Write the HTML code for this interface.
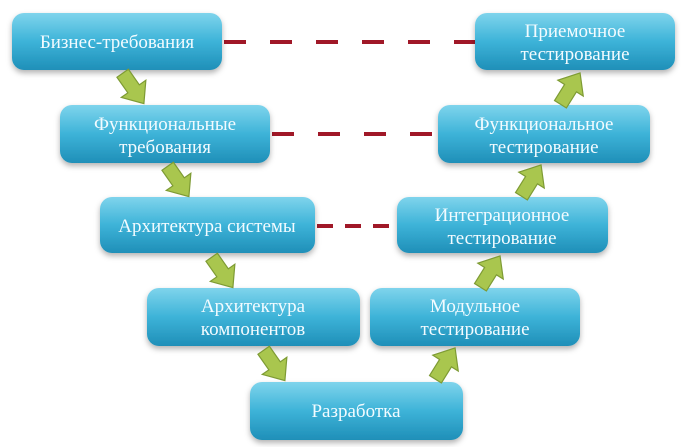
<!DOCTYPE html>
<html><head><meta charset="utf-8"><style>
html,body{margin:0;padding:0;background:#fff;}
svg{display:block;}
</style></head><body>
<svg width="681" height="447" viewBox="0 0 681 447" xmlns="http://www.w3.org/2000/svg">
<defs>
<linearGradient id="g" x1="0" y1="0" x2="0" y2="1">
<stop offset="0" stop-color="#7fd4ec"/>
<stop offset="0.5" stop-color="#3db3d8"/>
<stop offset="1" stop-color="#1f8fb8"/>
</linearGradient>
<filter id="s" x="-10%" y="-10%" width="120%" height="140%"><feDropShadow dx="0" dy="3" stdDeviation="3" flood-color="#000" flood-opacity="0.3"/></filter>
<g id="ar"><polygon points="-18,-7 1,-7 1,-15 19,0 1,15 1,7 -18,7" fill="#a9c64e" stroke="#7e9b34" stroke-width="1.2"/></g>
</defs>
<g stroke="#a01828" stroke-width="4" stroke-dasharray="22,24">
<line x1="224" y1="42" x2="475" y2="42"/>
<line x1="272" y1="134" x2="438" y2="134"/>
<line x1="317" y1="226" x2="397" y2="226" stroke-dasharray="16,12"/>
<line x1="346" y1="317" x2="372" y2="317" stroke-dasharray="12,14"/>
</g>
<g filter="url(#s)" fill="url(#g)">
<rect x="12" y="13" width="210" height="57" rx="12"/>
<rect x="60" y="105" width="210" height="58" rx="12"/>
<rect x="100" y="197" width="215" height="56" rx="12"/>
<rect x="147" y="288" width="213" height="58" rx="12"/>
<rect x="250" y="382" width="213" height="58" rx="12"/>
<rect x="370" y="288" width="210" height="58" rx="12"/>
<rect x="397" y="197" width="211" height="56" rx="12"/>
<rect x="438" y="105" width="212" height="58" rx="12"/>
<rect x="475" y="13" width="200" height="57" rx="12"/>
</g>
<use href="#ar" transform="translate(133,88) rotate(55)"/>
<use href="#ar" transform="translate(178,181) rotate(55)"/>
<use href="#ar" transform="translate(222,272) rotate(55)"/>
<use href="#ar" transform="translate(274,365) rotate(55)"/>
<use href="#ar" transform="translate(445,364) rotate(-58)"/>
<use href="#ar" transform="translate(490,272) rotate(-58)"/>
<use href="#ar" transform="translate(531,181) rotate(-58)"/>
<use href="#ar" transform="translate(570,89) rotate(-58)"/>
<g font-family="Liberation Serif, DejaVu Serif, serif" font-size="19" fill="#f2fbff" text-anchor="middle">
<text x="117" y="48">Бизнес-требования</text>
<text x="165" y="130">Функциональные</text>
<text x="165" y="153">требования</text>
<text x="207" y="232">Архитектура системы</text>
<text x="253" y="312">Архитектура</text>
<text x="253" y="335">компонентов</text>
<text x="356" y="417">Разработка</text>
<text x="475" y="312">Модульное</text>
<text x="475" y="335">тестирование</text>
<text x="502" y="221">Интеграционное</text>
<text x="502" y="244">тестирование</text>
<text x="544" y="130">Функциональное</text>
<text x="544" y="153">тестирование</text>
<text x="575" y="37">Приемочное</text>
<text x="575" y="60">тестирование</text>
</g>
</svg>
</body></html>
